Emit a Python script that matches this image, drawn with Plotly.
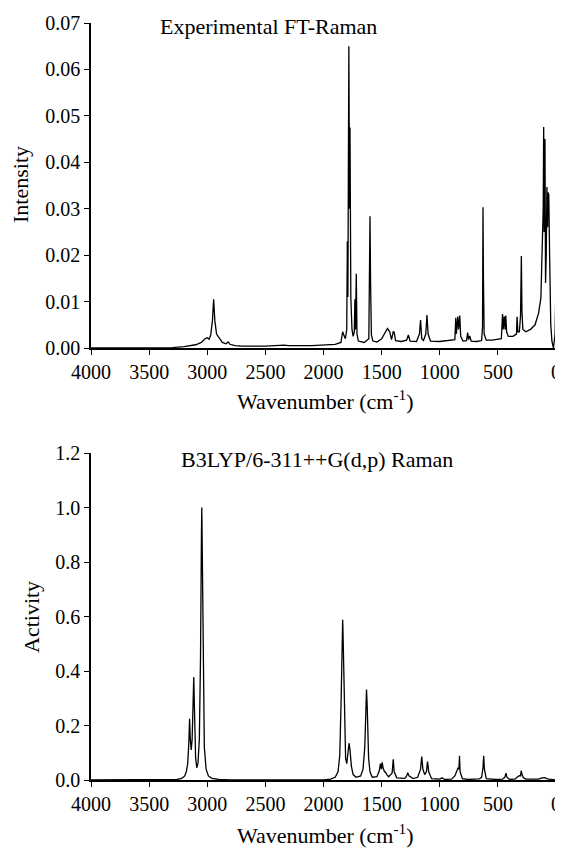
import plotly.graph_objects as go

# ---------------- data ----------------
exp_wavenumber = [
    4000, 3500, 3300, 3200, 3100, 3050, 3020, 3000, 2985, 2970, 2955, 2945, 2935, 2920,
    2900, 2870, 2840, 2820, 2805, 2760, 2700, 2500, 2340, 2300, 2100, 2000, 1900, 1850,
    1835, 1825, 1812, 1800, 1795, 1790, 1782, 1776, 1772, 1765, 1755, 1745, 1735, 1730,
    1725, 1718, 1712, 1700, 1650, 1610, 1600, 1595, 1588, 1575, 1540, 1500, 1470, 1450,
    1430, 1415, 1400, 1392, 1380, 1330, 1285, 1270, 1255, 1200, 1175, 1165, 1155, 1140,
    1120, 1110, 1100, 1080, 1000, 900, 870, 862, 857, 845, 838, 828, 820, 800, 770, 760,
    752, 742, 730, 680, 640, 632, 628, 624, 618, 600, 550, 500, 470, 460, 455, 445, 438,
    432, 425, 410, 370, 340, 335, 328, 315, 305, 298, 293, 285, 260, 220, 180, 150, 130,
    118, 110, 106, 102, 95, 90, 84, 78, 72, 68, 62, 55, 45, 35, 28, 22, 15, 8, 3, 0,
]
exp_intensity = [
    0.0, 0.0, 0.0001, 0.0003, 0.0007, 0.0012, 0.002, 0.0022, 0.0019, 0.0028, 0.006, 0.0105, 0.006, 0.003,
    0.0022, 0.0012, 0.0009, 0.0013, 0.0008, 0.0005, 0.0004, 0.0004, 0.0006, 0.0005, 0.0005, 0.0006, 0.0008, 0.0012,
    0.0035, 0.0028, 0.002, 0.004, 0.023, 0.011, 0.065, 0.03, 0.0475, 0.011, 0.004, 0.0025, 0.0035, 0.0105,
    0.004, 0.016, 0.003, 0.0015, 0.0012, 0.002, 0.0284, 0.014, 0.0028, 0.0015, 0.0013, 0.002, 0.0035, 0.0042,
    0.0035, 0.0018, 0.0035, 0.0034, 0.0016, 0.0014, 0.0017, 0.0028, 0.0015, 0.0014, 0.003, 0.006, 0.002, 0.0016,
    0.003, 0.0071, 0.003, 0.0015, 0.0014, 0.0016, 0.0018, 0.0065, 0.003, 0.0068, 0.004, 0.007, 0.0025, 0.0015, 0.0016, 0.0033,
    0.0018, 0.0026, 0.0015, 0.0014, 0.0016, 0.0045, 0.0303, 0.0145, 0.003, 0.0017, 0.0017, 0.0018, 0.002, 0.0073, 0.004, 0.0068, 0.004,
    0.007, 0.0035, 0.0025, 0.0025, 0.003, 0.0067, 0.0035, 0.0035, 0.007, 0.0198, 0.008, 0.004, 0.0035, 0.004, 0.005, 0.0075, 0.0108,
    0.0198, 0.03, 0.0476, 0.025, 0.045, 0.014, 0.02, 0.0347, 0.026, 0.0335, 0.033, 0.02, 0.005, 0.0015, 0.0, 0.0, 0.0015, 0.003, 0.0099, 0.0099,
]

calc_wavenumber = [
    4000, 3300, 3260, 3220, 3195, 3180, 3168, 3158, 3152, 3146, 3138, 3130, 3122, 3116, 3110, 3100,
    3090, 3080, 3068, 3058, 3050, 3047, 3043, 3035, 3025, 3010, 2990, 2960, 2900, 2800, 2000, 1940,
    1900, 1875, 1860, 1848, 1840, 1835, 1830, 1820, 1810, 1800, 1792, 1780, 1772, 1760, 1745, 1720,
    1680, 1660, 1645, 1635, 1630, 1624, 1612, 1600, 1580, 1540, 1520, 1510, 1502, 1495, 1488, 1475,
    1468, 1455, 1440, 1410, 1400, 1392, 1370, 1300, 1285, 1275, 1265, 1230, 1190, 1165, 1155, 1145,
    1130, 1115, 1105, 1095, 1070, 1000, 980, 960, 900, 870, 850, 842, 835, 830, 825, 805, 760, 720,
    660, 640, 628, 622, 616, 600, 520, 460, 440, 430, 422, 400, 350, 330, 315, 305, 300, 292, 280,
    260, 200, 150, 120, 105, 95, 80, 60, 0,
]
calc_activity = [
    0.0, 0.0, 0.002, 0.006, 0.014, 0.03, 0.06, 0.14, 0.225, 0.15, 0.11, 0.15, 0.29, 0.378, 0.26, 0.08,
    0.045, 0.06, 0.15, 0.45, 0.9, 1.0, 0.85, 0.4, 0.12, 0.04, 0.015, 0.006, 0.002, 0.0, 0.0, 0.003,
    0.01, 0.03, 0.09, 0.3, 0.55, 0.588, 0.5, 0.2, 0.08, 0.06, 0.09, 0.135, 0.11, 0.05, 0.02, 0.01,
    0.015, 0.04, 0.12, 0.28, 0.332, 0.27, 0.08, 0.03, 0.01, 0.012, 0.035, 0.06, 0.04, 0.065, 0.045, 0.03,
    0.03, 0.02, 0.012, 0.025, 0.076, 0.03, 0.008, 0.006, 0.015, 0.027, 0.015, 0.005, 0.01, 0.04, 0.086, 0.04,
    0.02, 0.03, 0.068, 0.03, 0.005, 0.003, 0.008, 0.002, 0.003, 0.015, 0.035, 0.045, 0.04, 0.089, 0.03, 0.005, 0.002, 0.003,
    0.004, 0.01, 0.045, 0.089, 0.04, 0.005, 0.002, 0.003, 0.01, 0.025, 0.01, 0.002, 0.004, 0.012, 0.016, 0.015, 0.034, 0.02, 0.008,
    0.003, 0.002, 0.003, 0.008, 0.01, 0.009, 0.005, 0.003, 0.0,
]

x_ticks = [4000, 3500, 3000, 2500, 2000, 1500, 1000, 500, 0]
top_y_ticks = [0.00, 0.01, 0.02, 0.03, 0.04, 0.05, 0.06, 0.07]
bottom_y_ticks = [0.0, 0.2, 0.4, 0.6, 0.8, 1.0, 1.2]

top_title = "Experimental FT-Raman"
bottom_title = "B3LYP/6-311++G(d,p) Raman"
x_title = "Wavenumber (cm<sup>-1</sup>)"
top_y_title = "Intensity"
bottom_y_title = "Activity"

# ---------------- figure ----------------
# The page places the figure 8 px from the top-left corner (default body margin),
# so the figure is 8 px smaller and every target pixel position is shifted by 8.
OFF = 8
W, H = 563 - OFF, 854 - OFF
FONT = "Liberation Serif, Times New Roman, serif"

def px(x):
    return (x - OFF) / W

def py(y):
    return 1 - (y - OFF) / H

fig = go.Figure()
fig.add_trace(go.Scatter(x=exp_wavenumber, y=exp_intensity, mode="lines",
                         line=dict(color="black", width=1.3), xaxis="x", yaxis="y",
                         showlegend=False, cliponaxis=False))
fig.add_trace(go.Scatter(x=calc_wavenumber, y=calc_activity, mode="lines",
                         line=dict(color="black", width=1.3), xaxis="x2", yaxis="y2",
                         showlegend=False, cliponaxis=False))

x_dom = [px(91), px(556)]
axis_common = dict(showline=True, linecolor="black", linewidth=1.5, ticks="outside",
                   ticklen=5, tickwidth=1.3, tickcolor="black", showgrid=False,
                   zeroline=False, automargin=False, ticklabeloverflow="allow",
                   tickfont=dict(family=FONT, size=20, color="black"))

fig.update_layout(
    width=W, height=H,
    margin=dict(l=0, r=0, t=0, b=0, autoexpand=False),
    paper_bgcolor="white", plot_bgcolor="white",
    font=dict(family=FONT, color="black"),
    xaxis=dict(domain=x_dom, range=[4000, 0], tickvals=x_ticks, tickformat="d",
               anchor="y", **axis_common),
    yaxis=dict(domain=[py(348), py(23)], range=[0, 0.07], tickvals=top_y_ticks,
               tickformat=".2f", anchor="x", **axis_common),
    xaxis2=dict(domain=x_dom, range=[4000, 0], tickvals=x_ticks, tickformat="d",
                anchor="y2", **axis_common),
    yaxis2=dict(domain=[py(780), py(453)], range=[0, 1.2], tickvals=bottom_y_ticks,
                tickformat=".1f", anchor="x2", **axis_common),
)

def ann(text, x, y, size=22, angle=0):
    fig.add_annotation(text=text, x=px(x), y=py(y), xref="paper", yref="paper",
                       showarrow=False, textangle=angle, xanchor="center", yanchor="middle",
                       font=dict(family=FONT, size=size, color="black"))

ann(top_title, 268, 27)
ann(bottom_title, 317, 459)
ann(x_title, 325, 400)
ann(x_title, 325, 834)
ann(top_y_title, 20, 185, angle=-90)
ann(bottom_y_title, 31, 617, angle=-90)

fig.write_html("out.html")
